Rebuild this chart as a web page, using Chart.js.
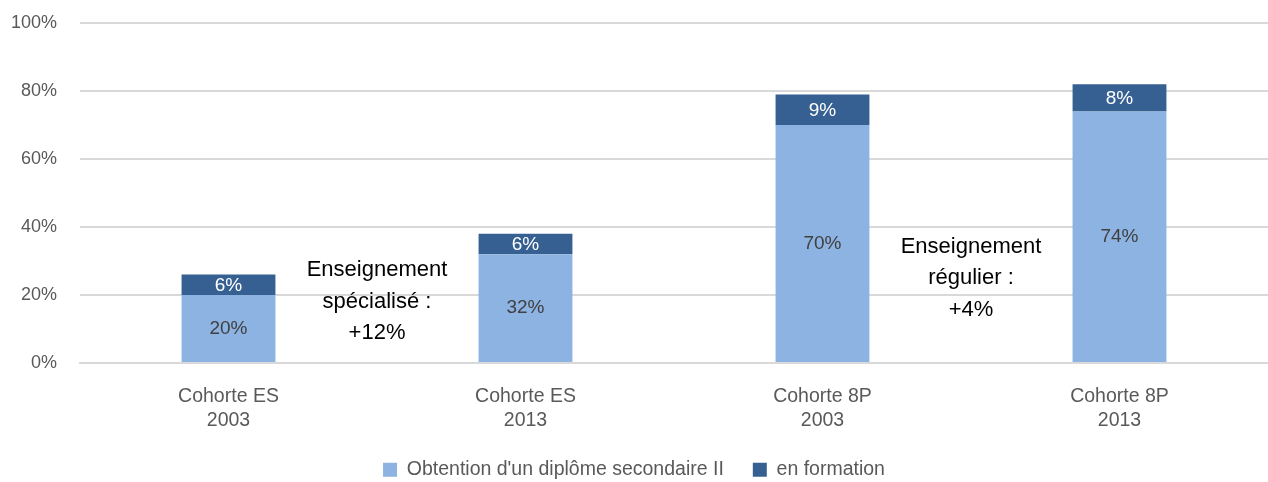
<!DOCTYPE html>
<html>
<head>
<meta charset="utf-8">
<script src="https://cdn.jsdelivr.net/npm/chart.js@4/dist/chart.umd.min.js"></script>
<style>
  html, body { margin: 0; padding: 0; background: #fff; }
  #wrap { width: 1268px; height: 482px; }
</style>
</head>
<body>
<div id="wrap"><canvas id="chart"></canvas></div>
<script>
const categories = [['Cohorte ES', '2003'], ['Cohorte ES', '2013'], ['Cohorte 8P', '2003'], ['Cohorte 8P', '2013']];
const diplomaValues = [20, 32, 70, 74];
const trainingValues = [6, 6, 9, 8];
const seriesNames = ["Obtention d'un diplôme secondaire II", 'en formation'];
const yTicks = [0, 20, 40, 60, 80, 100];
// annotations: position between bars (category index) and middle-line value
const notes = [
  { x: 0.5, y: 18, lines: ['Enseignement', 'spécialisé :', '+12%'] },
  { x: 2.5, y: 25, lines: ['Enseignement', 'régulier :', '+4%'] },
];

const FONT = "'Liberation Sans', Arial, sans-serif";

const labelsPlugin = {
  id: 'barLabels',
  afterDatasetsDraw(chart) {
    const { ctx } = chart;
    ctx.save();
    ctx.font = '19px ' + FONT;
    ctx.textAlign = 'center';
    ctx.textBaseline = 'middle';
    chart.data.datasets.forEach((ds, i) => {
      const meta = chart.getDatasetMeta(i);
      meta.data.forEach((bar, j) => {
        const mid = (bar.y + bar.base) / 2;
        ctx.fillStyle = i === 0 ? '#404040' : '#ffffff';
        ctx.fillText(ds.data[j] + '%', bar.x, mid + (i === 0 ? 0 : 1));
      });
    });
    // annotations
    const xs = chart.scales.x, ys = chart.scales.y;
    ctx.font = '22px ' + FONT;
    ctx.fillStyle = '#000000';
    notes.forEach(n => {
      const cx = xs.getPixelForValue(n.x);
      const cy = ys.getPixelForValue(n.y);
      n.lines.forEach((t, k) => {
        ctx.fillText(t, cx, cy + (k - 1) * 31.5);
      });
    });
    ctx.restore();
  }
};

new Chart(document.getElementById('chart'), {
  type: 'bar',
  data: {
    labels: categories,
    datasets: [
      { label: seriesNames[0], data: diplomaValues, backgroundColor: '#8db3e2', barPercentage: 0.632, categoryPercentage: 0.5 },
      { label: seriesNames[1], data: trainingValues, backgroundColor: '#376092', barPercentage: 0.632, categoryPercentage: 0.5 },
    ],
  },
  options: {
    responsive: true,
    maintainAspectRatio: false,
    animation: false,
    layout: { padding: { top: 23, right: 0, left: 0, bottom: 0 } },
    scales: {
      x: {
        stacked: true,
        grid: { display: false },
        border: { color: '#d9d9d9', width: 2 },
        ticks: { color: '#595959', font: { size: 19.5, family: FONT, lineHeight: 1.25 }, padding: 13, maxRotation: 0 },
        afterFit: (axis) => { axis.height = 68; },
      },
      y: {
        stacked: true,
        min: 0,
        max: 100,
        afterBuildTicks: (axis) => { axis.ticks = yTicks.map(v => ({ value: v })); },
        afterFit: (axis) => { axis.width = 80; axis.paddingTop = 0; axis.paddingBottom = 0; },
        grid: { color: '#d9d9d9', lineWidth: 2, drawTicks: false },
        border: { display: false },
        ticks: { color: '#595959', font: { size: 18, family: FONT }, padding: 23, callback: v => v + '%' },
      },
    },
    plugins: {
      legend: {
        position: 'bottom',
        maxHeight: 51,
        labels: {
          color: '#595959',
          font: { size: 19.5, family: FONT },
          boxWidth: 14,
          boxHeight: 14,
          padding: 29,
        },
      },
      tooltip: { enabled: false },
    },
  },
  plugins: [labelsPlugin],
});
</script>
</body>
</html>
